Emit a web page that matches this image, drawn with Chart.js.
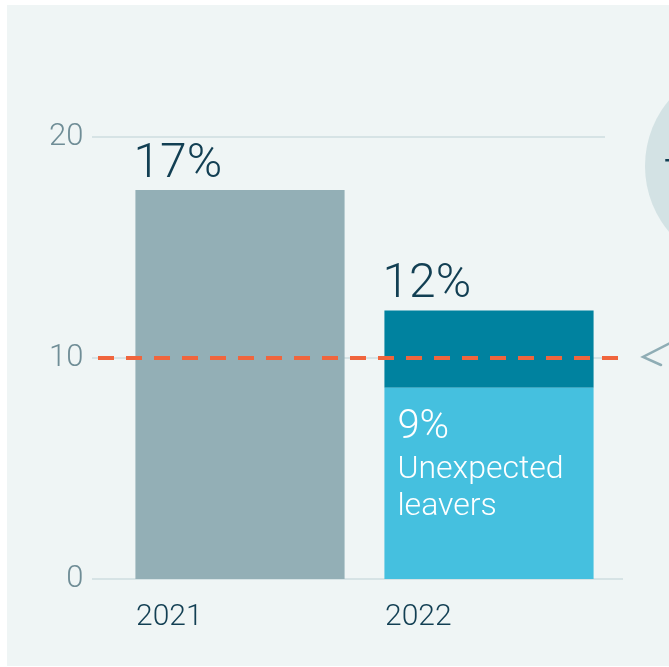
<!DOCTYPE html>
<html>
<head>
<meta charset="utf-8">
<script src="https://cdn.jsdelivr.net/npm/chart.js@4.4.1/dist/chart.umd.min.js"></script>
<style>
  html, body { margin: 0; padding: 0; background: #ffffff; }
  #panel { position: absolute; left: 7px; top: 5px; width: 662px; height: 661px; background: #eff5f5; }
  #c { position: absolute; left: 0; top: 0; }
</style>
</head>
<body>
<div id="panel"></div>
<canvas id="c" width="669" height="667"></canvas>
<script>
// ---- data ----
const categories = ['2021', '2022'];
const mainValues = [17.6, 8.65];      // 2021 leavers, 2022 unexpected leavers
const topValues = [null, 3.5];        // 2022 remaining leavers (stacked on top)
const totalLabels = ['17%', '12%'];
const innerLabels = [null, ['9%', 'Unexpected', 'leavers']];
const benchmark = 10;
const yTicks = [0, 10, 20];

const FONT = 'Roboto, "Open Sans", sans-serif';
const DARK = '#123f53';

const overlay = {
  id: 'overlay',
  beforeDatasetsDraw(chart) {
    const ctx = chart.ctx, y = chart.scales.y;
    ctx.save();
    // decorative bubble at right
    ctx.fillStyle = '#d3e2e4';
    ctx.beginPath();
    ctx.ellipse(742, 166, 97, 100, 0, 0, Math.PI * 2);
    ctx.fill();
    ctx.fillStyle = DARK;
    ctx.font = '300 48px ' + FONT;
    ctx.textBaseline = 'alphabetic';
    ctx.textAlign = 'left';
    ctx.fillText('T', 664, 193);
    // gridlines
    ctx.strokeStyle = '#d6e3e5';
    ctx.lineWidth = 2;
    yTicks.forEach(v => {
      const py = y.getPixelForValue(v);
      ctx.beginPath();
      ctx.moveTo(92, py);
      ctx.lineTo(v === 0 ? 623 : 605, py);
      ctx.stroke();
    });
    ctx.restore();
  },
  afterDatasetsDraw(chart) {
    const ctx = chart.ctx, y = chart.scales.y;
    ctx.save();
    // benchmark dashed line
    const by = y.getPixelForValue(benchmark);
    ctx.strokeStyle = '#f0653d';
    ctx.lineWidth = 4;
    ctx.setLineDash([16, 12]);
    ctx.beginPath();
    ctx.moveTo(98, by);
    ctx.lineTo(620, by);
    ctx.stroke();
    ctx.setLineDash([]);
    // arrow
    ctx.strokeStyle = '#8fadb5';
    ctx.lineWidth = 2.5;
    ctx.lineCap = 'round';
    ctx.beginPath();
    ctx.moveTo(672, 342);
    ctx.lineTo(643, by - 1);
    ctx.lineTo(661, by + 7);
    ctx.stroke();

    // value labels
    const m0 = chart.getDatasetMeta(0), m1 = chart.getDatasetMeta(1);
    ctx.fillStyle = DARK;
    ctx.font = '300 48px ' + FONT;
    ctx.textAlign = 'left';
    ctx.textBaseline = 'alphabetic';
    categories.forEach((c, i) => {
      const bar = m0.data[i];
      const topBar = (topValues[i] != null) ? m1.data[i] : bar;
      const left = bar.x - bar.width / 2;
      ctx.fillText(totalLabels[i], left - 2, topBar.y - 13);
    });
    // inner labels
    ctx.fillStyle = '#ffffff';
    categories.forEach((c, i) => {
      const lines = innerLabels[i];
      if (!lines) return;
      const bar = m0.data[i];
      const left = bar.x - bar.width / 2 + 13;
      ctx.font = '300 40px ' + FONT;
      ctx.fillText(lines[0], left, bar.y + 50);
      ctx.font = '300 32px ' + FONT;
      ctx.fillText(lines[1], left, bar.y + 90);
      ctx.fillText(lines[2], left, bar.y + 127);
    });
    ctx.restore();
  }
};

new Chart(document.getElementById('c'), {
  type: 'bar',
  data: {
    labels: categories,
    datasets: [
      { data: mainValues, backgroundColor: ['#93afb6', '#45c0df'], stack: 's' },
      { data: topValues, backgroundColor: '#00829f', stack: 's' }
    ]
  },
  options: {
    responsive: false,
    animation: false,
    events: [],
    layout: { padding: { left: 0, top: 137, right: 55.5, bottom: 0 } },
    plugins: { legend: { display: false }, tooltip: { enabled: false } },
    datasets: { bar: { categoryPercentage: 1, barPercentage: 0.84, borderWidth: 0 } },
    scales: {
      x: {
        stacked: true,
        grid: { display: false, drawTicks: false },
        border: { display: false },
        ticks: { color: DARK, font: { family: FONT, size: 30, weight: '300' }, padding: 20, align: 'start', labelOffset: -104 },
        afterFit: s => { s.height = 88; }
      },
      y: {
        stacked: true,
        min: 0, max: 20,
        grid: { display: false, drawTicks: false },
        border: { display: false },
        afterBuildTicks: s => { s.ticks = yTicks.map(v => ({ value: v })); },
        ticks: { color: '#6f8d96', font: { family: FONT, size: 31, weight: '300' }, padding: 32 },
        afterFit: s => { s.width = 115.5; }
      }
    }
  },
  plugins: [overlay]
});
</script>
</body>
</html>
